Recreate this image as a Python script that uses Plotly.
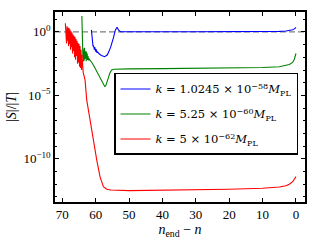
import numpy as np
import plotly.graph_objects as go

# ---- data (y given as log10 of |S|/|T|) ----
blue_n = [61.30, 61.15, 60.95, 60.80, 60.70, 60.60, 60.50, 60.40, 60.30, 60.20, 60.10, 60.00,
          59.90, 59.80, 59.70, 59.60, 59.50, 59.30, 59.00, 58.30, 57.30, 56.50, 55.60, 54.70,
          54.10, 53.60, 53.20, 52.60, 50, 40, 30, 20, 10, 5, 3, 2, 1, 0.5, 0]
blue_log = [0.16, -0.47, -0.95, -1.15, -1.05, -1.30, -1.15, -1.40, -1.20, -1.45, -1.30, -1.55,
            -1.35, -1.55, -1.45, -1.65, -1.55, -1.68, -1.72, -1.85, -1.95, -1.80, -1.26, -0.47,
            0.16, 0.37, 0.16, 0.02, 0.01, 0.01, 0.01, 0.01, 0.02, 0.04, 0.07, 0.10, 0.17, 0.24, 0.35]

green_n = [64.15, 64.05, 63.95, 63.85, 63.75, 63.65, 63.55, 63.45, 63.35, 63.25, 63.15, 63.05,
           62.95, 62.85, 62.75, 62.65, 62.55, 62.45, 62.30, 62.15, 62.00, 61.70, 61.30, 60.50,
           59.70, 59.00, 58.30, 57.70, 57.30, 57.00, 56.60, 56.20, 55.70, 55.20, 54.50, 53,
           50, 40, 30, 20, 10, 5, 3, 2, 1, 0.5, 0]
green_log = [1.26, -1.60, -1.10, -2.00, -1.30, -2.30, -1.50, -2.20, -1.25, -2.10, -1.35, -2.00,
             -1.50, -2.30, -1.60, -2.10, -1.70, -2.20, -1.90, -2.25, -2.10, -2.25, -2.35, -2.70,
             -3.10, -3.50, -3.90, -4.20, -4.30, -4.25, -4.00, -3.60, -3.20, -3.00, -2.94, -2.92,
             -2.91, -2.89, -2.87, -2.85, -2.80, -2.74, -2.66, -2.57, -2.40, -2.15, -1.70]

red_n = [69.10, 69.00, 68.90, 68.75, 68.60, 68.45, 68.30, 68.15, 68.00, 67.85, 67.70, 67.55,
         67.40, 67.25, 67.10, 66.95, 66.80, 66.65, 66.50, 66.35, 66.20, 66.05, 65.90, 65.75,
         65.60, 65.45, 65.30, 65.15, 65.00, 64.85, 64.70, 64.55, 64.40, 64.25, 64.10, 63.95,
         63.85, 63.75, 63.70, 63.20, 62.70, 61.70, 60.70, 59.70, 58.70, 57.70, 56.70, 55.50,
         50, 40, 30, 20, 10, 5, 3, 2, 1, 0.5, 0]
red_log = [0.68, -0.50, 0.55, -0.90, 0.45, -0.70, 0.35, -1.10, 0.30, -0.95, 0.20, -1.40,
           0.05, -1.20, -0.05, -1.70, -0.20, -1.50, -0.30, -2.00, -0.40, -2.20, -0.55, -1.90,
           -0.70, -2.50, -0.85, -2.40, -0.95, -2.75, -1.10, -2.85, -1.40, -3.00, -1.80, -3.15,
           -2.40, -3.20, -3.25, -3.78, -5.35, -6.93, -8.74, -10.08, -11.42, -12.20, -12.39, -12.46,
           -12.50, -12.48, -12.45, -12.40, -12.32, -12.22, -12.12, -12.00, -11.80, -11.60, -11.40]

series_names = [
    "<i>k</i> = 1.0245 × 10<sup>−58</sup><i>M</i><sub>PL</sub>",
    "<i>k</i> = 5.25 × 10<sup>−60</sup><i>M</i><sub>PL</sub>",
    "<i>k</i> = 5 × 10<sup>−62</sup><i>M</i><sub>PL</sub>",
]
series_colors = ["#0000ff", "#008000", "#ff0000"]

x_ticks = [70, 60, 50, 40, 30, 20, 10, 0]
y_major = [1e0, 1e-5, 1e-10]
y_major_text = ["10<sup>0</sup>", "10<sup>−5</sup>", "10<sup>−10</sup>"]
y_minor = [10.0 ** e for e in range(1, -14, -1)]

FONT = "Liberation Serif"
LFONT = "DejaVu Serif"

fig = go.Figure()
for i, (n, lg, name, col) in enumerate(zip([blue_n, green_n, red_n],
                                           [blue_log, green_log, red_log],
                                           series_names, series_colors)):
    fig.add_trace(go.Scatter(x=n, y=np.power(10.0, lg), mode="lines", name=name,
                             legendgroup=f"g{i}",
                             line=dict(color=col, width=1.1)))

fig.add_shape(type="line", xref="paper", yref="y", x0=0, x1=1, y0=1, y1=1,
              line=dict(color="#808080", width=1.2, dash="6px,3px"), layer="below")

axis_common = dict(showline=True, linecolor="black", linewidth=1.5, mirror="ticks",
                   ticks="inside", tickcolor="black", showgrid=False, zeroline=False,
                   automargin=False,
                   tickfont=dict(family=FONT, size=13, color="black"))

fig.update_xaxes(range=[72.2, -2.7], tickvals=x_ticks, ticklen=4, tickwidth=1,
                 title=dict(text="<i>n</i><sub>end</sub> − <i>n</i>",
                            font=dict(family=FONT, size=14, color="black"), standoff=2),
                 **axis_common)
fig.update_yaxes(type="log", range=[-13.4, 1.57], tickvals=y_major, ticktext=y_major_text,
                 ticklen=4, tickwidth=1,
                 minor=dict(tickvals=y_minor, ticks="inside", ticklen=2, tickcolor="black"),
                 title=dict(text="|<i>S</i>|/|<i>T</i>|",
                            font=dict(family=FONT, size=14, color="black"), standoff=4),
                 **axis_common)

fig.update_layout(
    width=320, height=240,
    margin=dict(l=55, r=15, t=12, b=38),
    paper_bgcolor="white", plot_bgcolor="white",
    showlegend=True,
    legend=dict(x=0.972, y=0.679, xanchor="right", yanchor="top",
                bgcolor="white", bordercolor="black", borderwidth=1.5,
                font=dict(family=LFONT, size=11.5, color="black"),
                itemwidth=30, tracegroupgap=6),
)

fig.write_html("out.html", config={"displayModeBar": False},
               post_script="document.body.style.margin='0';")
